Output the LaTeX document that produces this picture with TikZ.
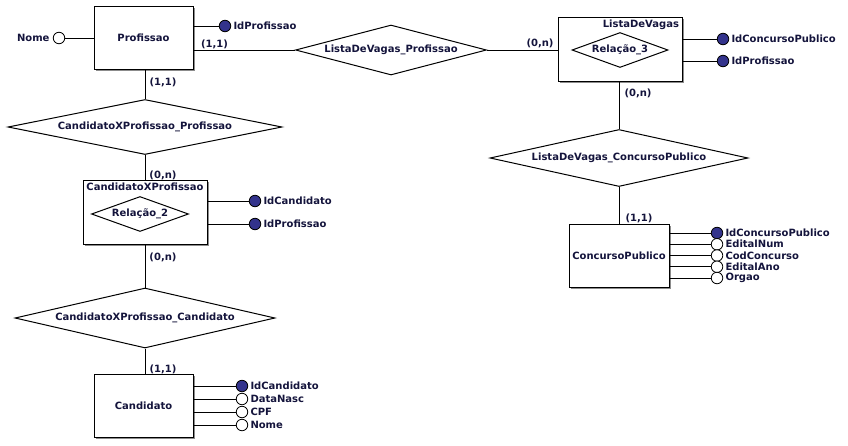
\documentclass[tikz,border=0pt]{standalone}
\usepackage{fontspec}
\setmainfont{DejaVu Sans}
\usetikzlibrary{shapes.geometric,shadows}
\definecolor{txt}{RGB}{20,20,60}
\definecolor{keyc}{RGB}{51,51,140}
\begin{document}
\begin{tikzpicture}[x=1pt,y=-1pt,line width=1pt,
  every node/.style={font=\fontsize{10}{12}\selectfont\bfseries,text=txt},
  entity/.style={draw,fill=white,rectangle,inner sep=0pt,
    drop shadow={shadow xshift=2pt,shadow yshift=-2pt,fill=black!45,opacity=1}},
  rel/.style={diamond,draw,fill=white,inner sep=0pt},
  attr/.style={circle,draw,fill=white,minimum size=11.5pt,inner sep=0pt,line width=0.8pt},
  keyattr/.style={attr,fill=keyc},
  lbl/.style={anchor=west,inner sep=0pt},
  card/.style={inner sep=0pt}]
\fill[white] (0,0) rectangle (848,445);
\useasboundingbox (0,0) rectangle (848,445);

% entities
\node[entity,minimum width=99pt,minimum height=63pt] (prof) at (143.5,37.5) {Profissao};
\node[entity,minimum width=99pt,minimum height=63pt] (cand) at (143.5,405.5) {Candidato};
\node[entity,minimum width=124pt,minimum height=64pt] (cxp) at (145,212) {};
\node[entity,minimum width=124pt,minimum height=64pt] (lv) at (620,49) {};
\node[entity,minimum width=100pt,minimum height=63pt] (cp) at (619,255.5) {ConcursoPublico};

% associative entity contents
\node[anchor=north,inner sep=0pt] (cxpt) at ([yshift=-3pt]cxp.north) {CandidatoXProfissao};
\node[rel,aspect=3,minimum width=97pt,minimum height=35pt] (r2) at (140,214) {Relação\_2};
\node[anchor=north east,inner sep=0pt] (lvt) at ([shift={(-3pt,-3pt)}]lv.north east) {ListaDeVagas};
\node[rel,aspect=3,minimum width=96pt,minimum height=35pt] (r3) at (620,50) {Relação\_3};

% relationships
\node[rel,aspect=4,minimum width=191pt,minimum height=50pt] (lvp) at (391,50) {ListaDeVagas\_Profissao};
\node[rel,aspect=5,minimum width=274pt,minimum height=55pt] (cxpp) at (145,127) {CandidatoXProfissao\_Profissao};
\node[rel,aspect=5,minimum width=260pt,minimum height=60pt] (cxpc) at (145,318) {CandidatoXProfissao\_Candidato};
\node[rel,aspect=5,minimum width=258pt,minimum height=57pt] (lvcp) at (619,158) {ListaDeVagas\_ConcursoPublico};

% relationship lines
\draw (prof.east |- lvp.west) -- (lvp.west);
\draw (lvp.east) -- (lvp.east -| lv.west);
\draw (cxpp.north |- prof.south) -- (cxpp.north);
\draw (cxpp.south) -- (cxpp.south |- cxp.north);
\draw (cxpc.north |- cxp.south) -- (cxpc.north);
\draw (cxpc.south) -- (cxpc.south |- cand.north);
\draw (lvcp.north |- lv.south) -- (lvcp.north);
\draw (lvcp.south) -- (lvcp.south |- cp.north);

% cardinalities
\node[card] (c1) at (214.5,44) {(1,1)};
\node[card] (c2) at (540,43) {(0,n)};
\node[card] (c3) at (163,82) {(1,1)};
\node[card] (c4) at (163,175) {(0,n)};
\node[card] (c5) at (163,257) {(0,n)};
\node[card] (c6) at (163,369) {(1,1)};
\node[card] (c7) at (638,93) {(0,n)};
\node[card] (c8) at (639,218) {(1,1)};

% Profissao attributes
\node[attr] (pnome) at (59,38) {};
\node[anchor=east,inner sep=0pt] (pnomel) at (50,38) {Nome};
\draw (pnome) -- (prof.west |- pnome);
\node[keyattr] (pid) at (225,26) {};
\node[lbl] (pidl) at (233,26) {IdProfissao};
\draw (prof.east |- pid) -- (pid);

% CandidatoXProfissao attributes
\node[keyattr] (xa1) at (255,201) {};
\node[lbl] (xa1l) at (263,201) {IdCandidato};
\node[keyattr] (xa2) at (255,224) {};
\node[lbl] (xa2l) at (263,224) {IdProfissao};
\draw (cxp.east |- xa1) -- (xa1);
\draw (cxp.east |- xa2) -- (xa2);

% ListaDeVagas attributes
\node[keyattr] (la1) at (723,39) {};
\node[lbl] (la1l) at (731,39) {IdConcursoPublico};
\node[keyattr] (la2) at (723,61) {};
\node[lbl] (la2l) at (731,61) {IdProfissao};
\draw (lv.east |- la1) -- (la1);
\draw (lv.east |- la2) -- (la2);

% Candidato attributes
\node[keyattr] (ca1) at (242,386) {};
\node[lbl] (ca1l) at (250,386) {IdCandidato};
\node[attr] (ca2) at (242,399) {};
\node[lbl] (ca2l) at (250,399) {DataNasc};
\node[attr] (ca3) at (242,412) {};
\node[lbl] (ca3l) at (250,412) {CPF};
\node[attr] (ca4) at (242,425) {};
\node[lbl] (ca4l) at (250,425) {Nome};
\foreach \a in {ca1,ca2,ca3,ca4} \draw (cand.east |- \a) -- (\a);

% ConcursoPublico attributes
\node[keyattr] (pa1) at (717,233) {};
\node[lbl] (pa1l) at (725,233) {IdConcursoPublico};
\node[attr] (pa2) at (717,244.25) {};
\node[lbl] (pa2l) at (725,244.25) {EditalNum};
\node[attr] (pa3) at (717,255.5) {};
\node[lbl] (pa3l) at (725,255.5) {CodConcurso};
\node[attr] (pa4) at (717,266.75) {};
\node[lbl] (pa4l) at (725,266.75) {EditalAno};
\node[attr] (pa5) at (717,278) {};
\node[lbl] (pa5l) at (725,278) {Orgao};
\foreach \a in {pa1,pa2,pa3,pa4,pa5} \draw (cp.east |- \a) -- (\a);
\end{tikzpicture}
\end{document}
